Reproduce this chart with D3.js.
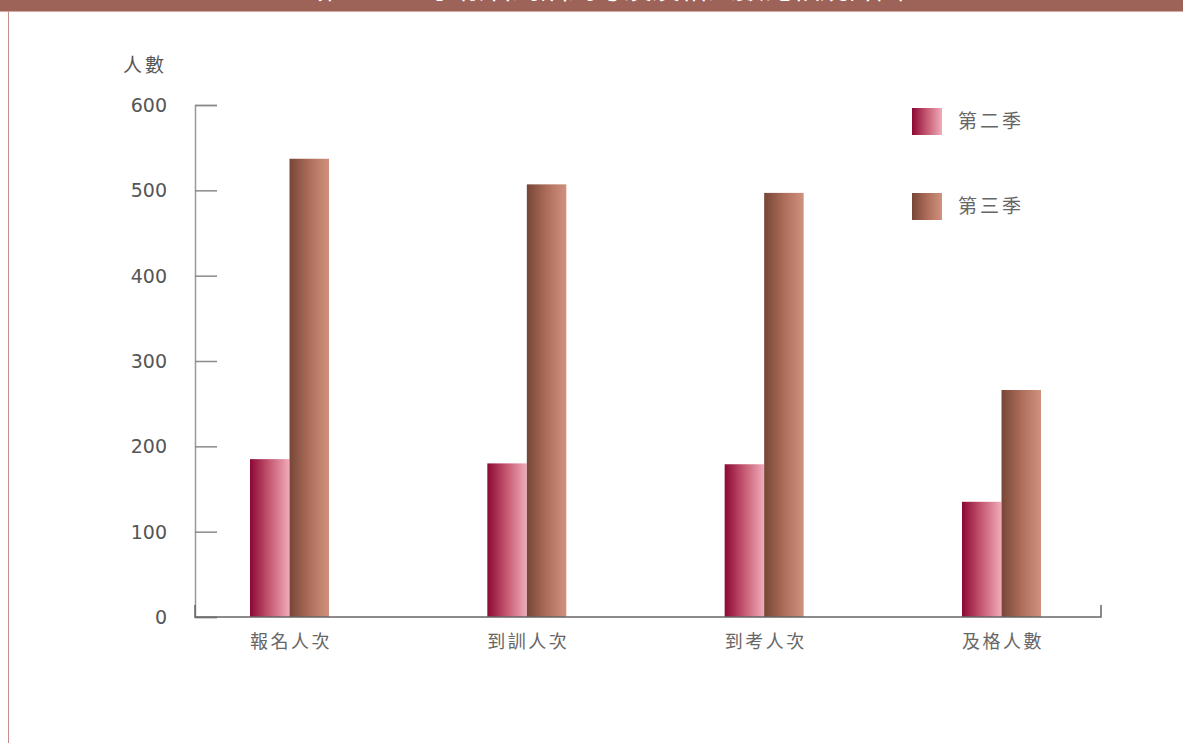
<!DOCTYPE html>
<html>
<head>
<meta charset="utf-8">
<script src="https://cdn.jsdelivr.net/npm/d3@7"></script>
<style>
  body { margin: 0; background: #fff; }
  svg { display: block; }
</style>
</head>
<body>
<div id="root"></div>
<script>
const categories = ["報名人次", "到訓人次", "到考人次", "及格人數"];
const seriesNames = ["第二季", "第三季"];
const season2 = [185, 180, 179, 135];
const season3 = [537, 507, 497, 266];
const yTicks = [0, 100, 200, 300, 400, 500, 600];
const titleText = "第二、三季報名到訓到考及及格人數比較統計圖";
const yLabel = "人數";

const width = 1183,
  height = 743;

const margins = { top: 105, right: 82, bottom: 126, left: 195 };
const plotW = width - margins.left - margins.right,
  plotH = height - margins.top - margins.bottom;

const cjk = "'Noto Sans CJK TC', 'Noto Sans CJK SC', sans-serif";
const num = "'DejaVu Sans', Verdana, sans-serif";

const svg = d3
  .select("#root")
  .append("svg")
  .attr("width", width)
  .attr("height", height)
  .attr("viewBox", [0, 0, width, height]);

// gradients for bars
const defs = svg.append("defs");
const gradStops = [
  ["#8c0834", "#c65a73", "#f0acba"],
  ["#774636", "#ad6d5a", "#d0927e"],
];
gradStops.forEach((stops, i) => {
  const g = defs
    .append("linearGradient")
    .attr("id", "grad" + i)
    .attr("x1", "0%")
    .attr("x2", "100%")
    .attr("y1", "0%")
    .attr("y2", "0%");
  stops.forEach((c, j) => {
    g.append("stop")
      .attr("offset", (j / (stops.length - 1)) * 100 + "%")
      .attr("stop-color", c);
  });
});

// header band + left frame line
svg.append("rect").attr("x", 0).attr("y", 0).attr("width", width).attr("height", 11).attr("fill", "#9e6358");
svg.append("line").attr("x1", 0).attr("x2", width).attr("y1", 11.5).attr("y2", 11.5).attr("stroke", "#d2aaa4");
svg.append("line").attr("x1", 8.5).attr("x2", 8.5).attr("y1", 11).attr("y2", height).attr("stroke", "#c58f89");

// title sits mostly above the top edge, like the source
svg
  .append("text")
  .attr("x", 610)
  .attr("y", -1)
  .attr("text-anchor", "middle")
  .attr("fill", "#fff")
  .style("font-family", cjk)
  .style("font-size", "28px")
  .text(titleText);

const x = d3.scalePoint().domain(categories).range([94, 806]).padding(0);
const xSub = d3.scaleBand().domain(seriesNames).range([-39, 40]).padding(0);
const y = d3.scaleLinear().domain([0, 600]).range([plotH, 0]);

const chart = svg.append("g").attr("transform", `translate(${margins.left}, ${margins.top})`);

// y axis
const yAxis = d3
  .axisRight(y)
  .tickValues(yTicks)
  .tickSize(22)
  .tickFormat(() => "");
const yg = chart.append("g").call(yAxis);
yg.select(".domain").attr("stroke", "#999").attr("stroke-width", 1.5);
yg.selectAll(".tick line").attr("stroke", "#8a8a8a").attr("stroke-width", 1.5);

chart
  .append("g")
  .selectAll("text")
  .data(yTicks)
  .join("text")
  .attr("x", -28)
  .attr("y", (d) => y(d))
  .attr("dy", "0.36em")
  .attr("text-anchor", "end")
  .attr("fill", "#555")
  .style("font-family", num)
  .style("font-size", "19px")
  .text((d) => d);

chart
  .append("text")
  .attr("x", -72)
  .attr("y", -33)
  .attr("fill", "#555")
  .style("font-family", cjk)
  .style("font-size", "19px")
  .style("letter-spacing", "3px")
  .text(yLabel);

// bars
const series = [season2, season3];
series.forEach((vals, si) => {
  chart
    .append("g")
    .selectAll("rect")
    .data(vals)
    .join("rect")
    .attr("x", (d, i) => x(categories[i]) + xSub(seriesNames[si]))
    .attr("y", (d) => y(d))
    .attr("width", xSub.bandwidth())
    .attr("height", (d) => plotH - y(d))
    .attr("fill", `url(#grad${si})`);
});

// x axis
chart
  .append("path")
  .attr("d", `M0,${plotH - 12}V${plotH}H${plotW}V${plotH - 12}`)
  .attr("fill", "none")
  .attr("stroke", "#666")
  .attr("stroke-width", 1.5);

chart
  .append("g")
  .selectAll("text")
  .data(categories)
  .join("text")
  .attr("x", (d) => x(d) + 2)
  .attr("y", plotH + 31)
  .attr("text-anchor", "middle")
  .attr("fill", "#666")
  .style("font-family", cjk)
  .style("font-size", "18px")
  .style("letter-spacing", "2.5px")
  .text((d) => d);

// legend
const legend = svg
  .append("g")
  .selectAll("g")
  .data(seriesNames)
  .join("g")
  .attr("transform", (d, i) => `translate(912, ${108 + i * 85})`);
legend
  .append("rect")
  .attr("width", 30)
  .attr("height", 27)
  .attr("fill", (d, i) => `url(#grad${i})`);
legend
  .append("text")
  .attr("x", 46)
  .attr("y", 13.5)
  .attr("dy", "0.35em")
  .attr("fill", "#666")
  .style("font-family", cjk)
  .style("font-size", "19px")
  .style("letter-spacing", "3px")
  .text((d) => d);
</script>
</body>
</html>
